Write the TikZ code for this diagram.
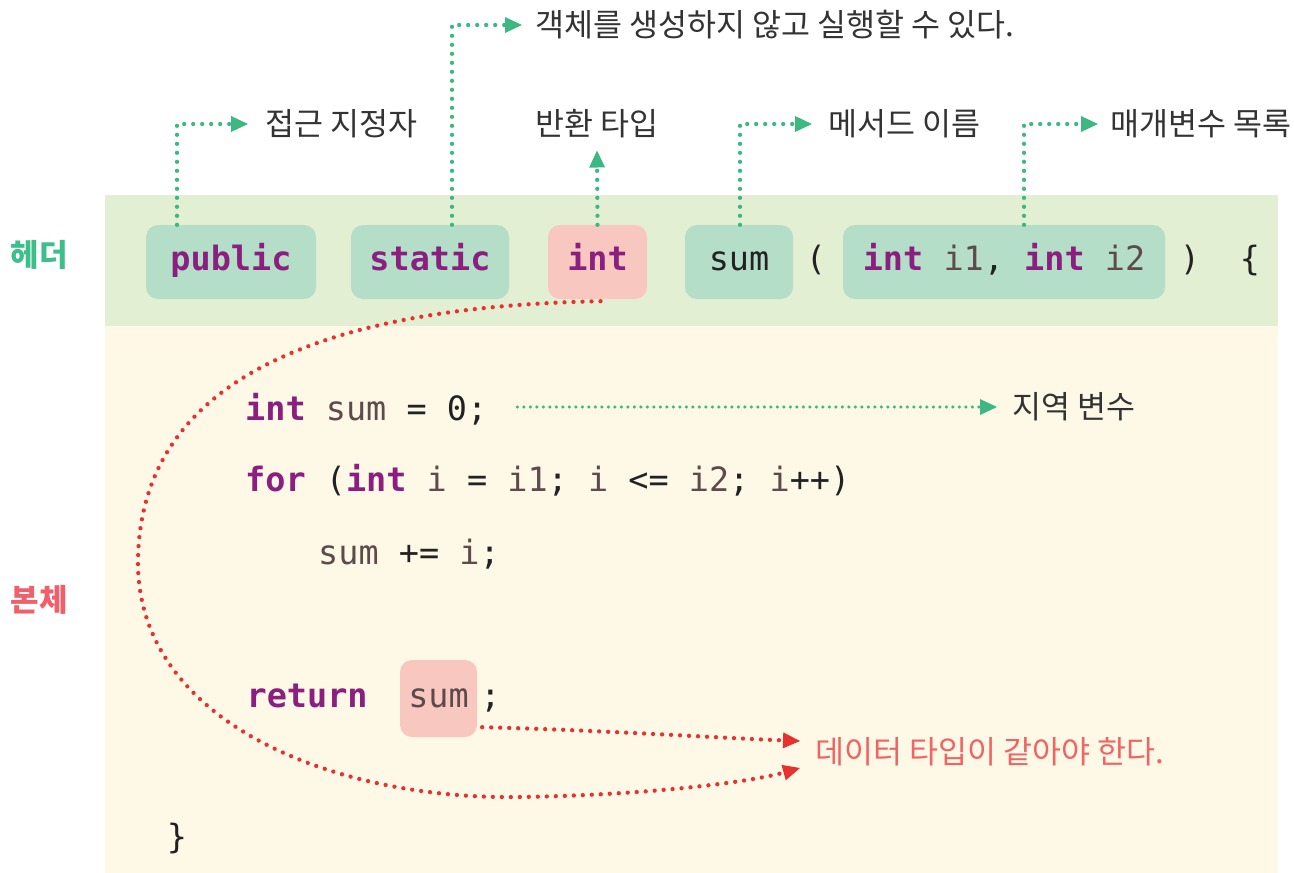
\documentclass[tikz,border=0pt]{standalone}
\usepackage{fontspec}
\setmonofont{DejaVu Sans Mono}
\newfontfamily\kr{Noto Sans CJK KR}
\usetikzlibrary{arrows.meta}
\definecolor{hdrbg}{HTML}{E3EFD3}
\definecolor{bodybg}{HTML}{FEF8E6}
\definecolor{gboxc}{HTML}{B5DEC8}
\definecolor{pboxc}{HTML}{F8C8C0}
\definecolor{kwc}{HTML}{8A1F7F}
\definecolor{idc}{HTML}{5E4A4A}
\definecolor{punc}{HTML}{222222}
\definecolor{garrow}{HTML}{3DB882}
\definecolor{rarrow}{HTML}{E8302E}
\definecolor{hdrlbl}{HTML}{3DBE8A}
\definecolor{bodylbl}{HTML}{F0606A}
\definecolor{notec}{HTML}{333333}
\definecolor{rnotec}{HTML}{F06464}
\newcommand\kw[1]{{\bfseries\color{kwc}#1}}
\newcommand\idn[1]{{\color{idc}#1}}
\newcommand\codefont{\ttfamily\fontsize{33.5}{40}\selectfont}
\newcommand\notefont{\kr\fontsize{31.5}{36}\selectfont}
\tikzset{
  code/.style={font=\codefont, text=punc, inner sep=0pt, text height=24pt, text depth=7pt},
  codebox/.style={code, rounded corners=12pt, minimum height=74pt},
  note/.style={font=\notefont, text=notec, inner sep=0pt},
  side/.style={font=\kr\bfseries\fontsize{31}{36}\selectfont, inner sep=0pt},
  tip/.style={-{Triangle[length=17pt,width=16pt,line width=0pt]}},
  gdot/.style={tip, draw=garrow, line width=4.3pt, line cap=round, dash pattern=on 0pt off 9pt},
  gdotsmall/.style={tip, draw=garrow, line width=3.4pt, line cap=round, dash pattern=on 0pt off 6.5pt},
  rdot/.style={tip, draw=rarrow, line width=4.3pt, line cap=round, dash pattern=on 0pt off 9pt},
}
\begin{document}
\begin{tikzpicture}[x=1pt,y=-1pt]
\useasboundingbox (0,0) rectangle (1294,873);
% header and body bands
\fill[hdrbg] (105,195) rectangle (1278,326);
\fill[bodybg] (105,326) rectangle (1278,873);

% side labels
\node[side, text=hdrlbl] (hdr) at (39,255) {헤더};
\node[side, text=bodylbl] (bdy) at (39,600) {본체};

% method header
\node[codebox, fill=gboxc, minimum width=170pt] (pub) at (231,262) {\kw{public}};
\node[codebox, fill=gboxc, minimum width=158pt] (stat) at (430,262) {\kw{static}};
\node[codebox, fill=pboxc, minimum width=99pt] (intb) at (597.5,262) {\kw{int}};
\node[codebox, fill=gboxc, minimum width=108pt] (name) at (739,262) {sum};
\node[code] (lpar) at (816,262) {(};
\node[codebox, fill=gboxc, minimum width=322pt] (params) at (1004,262) {\kw{int} \idn{i1}, \kw{int} \idn{i2}};
\node[code] (rpar) at (1190,262) {)};
\node[code] (lbrace) at (1250,262) {\{};

% annotations above the header
\node[note, anchor=west] (l1) at (265,124) {접근 지정자};
\node[note, anchor=west] (l2) at (535,25) {객체를 생성하지 않고 실행할 수 있다.};
\node[note] (l3) at (597,124) {반환 타입};
\node[note, anchor=west] (l4) at (828,124) {메서드 이름};
\node[note, anchor=west] (l5) at (1110,124) {매개변수 목록};

\draw[gdot] ([xshift=-54pt]pub.north) |- ([xshift=-17pt]l1.west);
\draw[gdot] ([xshift=22pt]stat.north) |- ([xshift=-13pt]l2.west);
\draw[gdot] (intb.north) -- ([yshift=-12pt]l3.south);
\draw[gdot] ([xshift=1pt]name.north) |- ([xshift=-16pt]l4.west);
\draw[gdot] ([xshift=20pt]params.north) |- ([xshift=-12pt]l5.west);

% method body
\node[code, anchor=base west] (ln1) at (245,420) {\kw{int} \idn{sum} = 0;};
\node[code, anchor=base west] (ln2) at (245,491) {\kw{for} (\kw{int} \idn{i} = \idn{i1}; \idn{i} <= \idn{i2}; \idn{i}++)};
\node[code, anchor=base west] (ln3) at (318,564) {\idn{sum} += \idn{i};};
\node[codebox, fill=pboxc, minimum width=77pt, minimum height=77pt] (sumr) at (438.5,698.5) {\idn{sum}};
\node[code, anchor=base east] (ret) at ([xshift=-32pt]sumr.base west) {\kw{return}};
\node[code, anchor=base west] (semi) at ([xshift=3pt]sumr.base east) {;};
\node[code] (rbrace) at (177,840) {\}};

\node[note, anchor=west] (lv) at (1012,407) {지역 변수};
\draw[gdotsmall] ([xshift=30pt]ln1.east |- lv.west) -- ([xshift=-15pt]lv.west);

\node[note, anchor=west, text=rnotec] (dt) at (815,752) {데이터 타입이 같아야 한다.};
\draw[rdot] ([xshift=5pt,yshift=10pt]sumr.south east) .. controls (600,730) and (720,738) .. ([xshift=-15pt,yshift=11pt]dt.west);
\draw[rdot] ([xshift=3pt,yshift=-2pt]intb.south) .. controls (250,308) and (140,420) .. (138,560)
  .. controls (136,720) and (330,800) .. (520,797)
  .. controls (650,795) and (750,782) .. ([xshift=-15pt,yshift=-16pt]dt.west);
\end{tikzpicture}
\end{document}
